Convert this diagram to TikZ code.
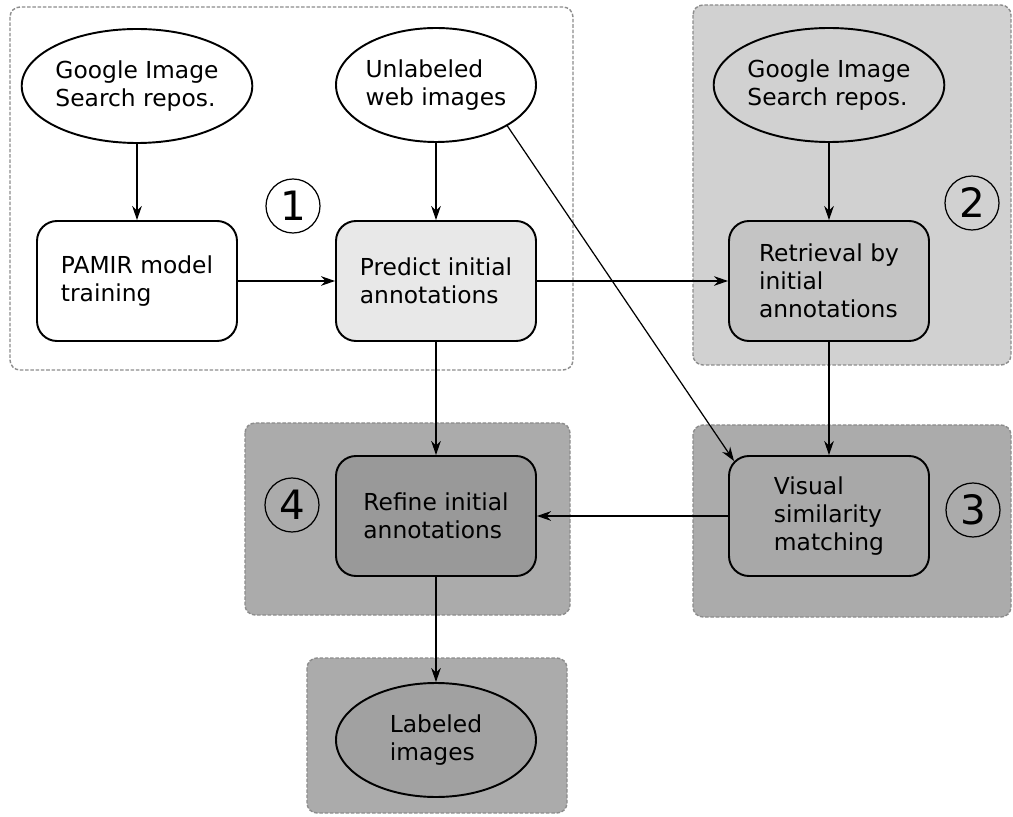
\documentclass[tikz,border=0pt]{standalone}
\usepackage{fontspec}
\setmainfont{DejaVu Sans}
\usetikzlibrary{arrows.meta,shapes.geometric}

\definecolor{grpA}{gray}{0.82}
\definecolor{grpB}{gray}{0.67}
\definecolor{predfill}{gray}{0.91}
\definecolor{retfill}{gray}{0.77}
\definecolor{reffill}{gray}{0.60}
\definecolor{visfill}{gray}{0.66}
\definecolor{labfill}{gray}{0.63}

\tikzset{
  box/.style={draw, line width=1.1pt, rounded corners=0.4cm, minimum width=4cm, minimum height=2.4cm, align=left},
  oval/.style={draw, ellipse, line width=1.1pt, minimum width=4cm, minimum height=2.28cm, inner sep=0pt, align=left},
  num/.style={draw, circle, line width=0.7pt, minimum size=1.08cm, inner sep=0pt, font=\fontsize{23}{25}\selectfont},
  group/.style={draw=black!45, dash pattern=on 2pt off 1pt, line width=0.8pt, rounded corners=0.2cm},
  link/.style={-{Stealth[length=8pt,width=5.5pt]}, line width=0.7pt}
}

\begin{document}
\begin{tikzpicture}[x=0.2mm, y=-0.2mm, font=\fontsize{13.3}{16}\selectfont]
\useasboundingbox (0,0) rectangle (1013,817);
% stage backgrounds
\draw[group, fill=white] (10,7) rectangle (573,370);
\draw[group, fill=grpA] (693,5) rectangle (1011,365);
\draw[group, fill=grpB] (693,425) rectangle (1011,617);
\draw[group, fill=grpB] (245,423) rectangle (570,615);
\draw[group, fill=grpB] (307,658) rectangle (567,813);
% nodes
\node[oval, fill=white] (gsa) at (137,86) {Google Image\\Search repos.};
\node[oval, fill=white] (unl) at (436,85) {Unlabeled\\web images};
\node[oval, fill=grpA] (gsb) at (829,85) {Google Image\\Search repos.};
\node[box, fill=white] (pam) at (137,281) {PAMIR model\\training};
\node[box, fill=predfill] (pre) at (436,281) {Predict initial\\annotations};
\node[box, fill=retfill] (ret) at (829,281) {Retrieval by\\initial\\annotations};
\node[box, fill=reffill] (ref) at (436,516) {Refine initial\\annotations};
\node[box, fill=visfill] (vis) at (829,516) {Visual\\similarity\\matching};
\node[oval, fill=labfill] (lab) at (436,740) {Labeled\\images};
% stage numbers
\node[num] (n1) at (293,206) {1};
\node[num] (n2) at (972,203) {2};
\node[num] (n3) at (973,510) {3};
\node[num] (n4) at (292,505) {4};
% connectors
\draw[link] (gsa) -- (pam);
\draw[link] (unl) -- (pre);
\draw[link] (pam) -- (pre);
\draw[link] (pre) -- (ret);
\draw[link] (gsb) -- (ret);
\draw[link] (ret) -- (vis);
\draw[link] (pre) -- (ref);
\draw[link] (vis) -- (ref);
\draw[link] (ref) -- (lab);
\draw[link] (unl.south east) -- ([shift={(6,6)}]vis.north west);
\end{tikzpicture}
\end{document}
